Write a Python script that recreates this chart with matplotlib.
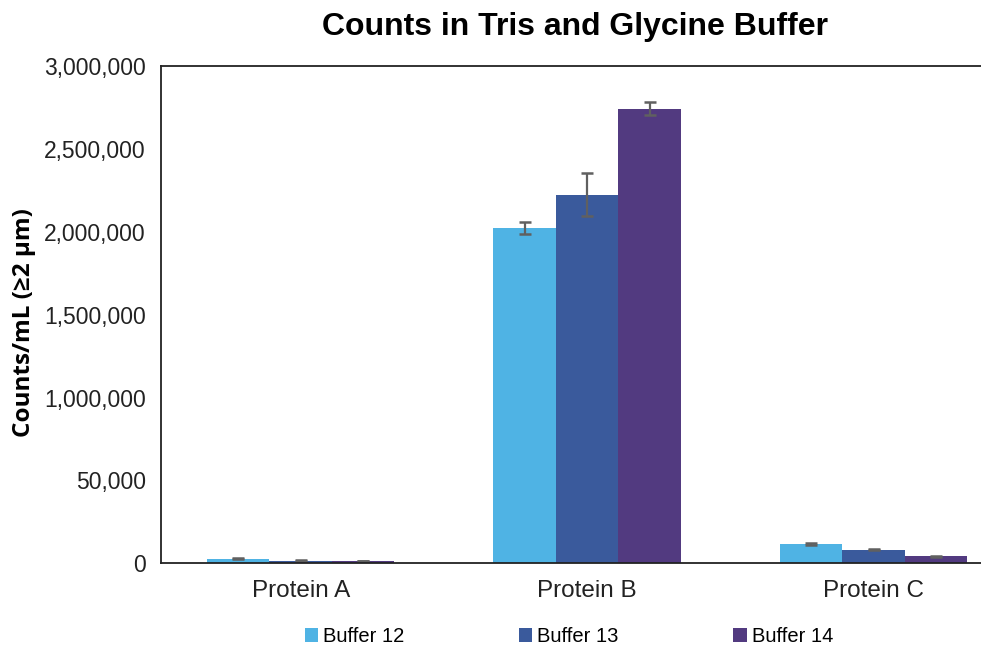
import numpy as np
import matplotlib.pyplot as plt

proteins = ['Protein A', 'Protein B', 'Protein C']
buffers = ['Buffer 12', 'Buffer 13', 'Buffer 14']
colors = ['#4fb3e4', '#3a5a9c', '#523a80']

# counts/mL per buffer, one value per protein
counts = [
    [26000, 2025000, 117000],
    [15000, 2225000, 81000],
    [13000, 2745000, 41000],
]
errors = [
    [3000, 35000, 6000],
    [2000, 130000, 3000],
    [2000, 40000, 2000],
]

ytick_vals = [0, 500000, 1000000, 1500000, 2000000, 2500000, 3000000]
ytick_labels = ['0', '50,000', '1,000,000', '1,500,000', '2,000,000', '2,500,000', '3,000,000']

plt.rcParams['font.family'] = ['Liberation Sans', 'DejaVu Sans']

fig = plt.figure(figsize=(9.81, 6.51), dpi=100)
ax = fig.add_axes([0.164, 0.135, 0.836, 0.763])

x = np.arange(len(proteins))
w = 0.218
for i, (name, col) in enumerate(zip(buffers, colors)):
    ax.bar(x + (i - 1) * w, counts[i], w, color=col, label=name,
           yerr=errors[i], ecolor='#606060',
           error_kw=dict(elinewidth=1.6, capsize=4.5, capthick=1.8))

ax.set_xlim(-0.488, 2.375)
ax.set_ylim(0, 3000000)
ax.set_yticks(ytick_vals)
ax.set_yticklabels(ytick_labels)
ax.set_xticks(x)
ax.set_xticklabels(proteins)
ax.tick_params(axis='y', length=0, labelsize=16.5, colors='#222222', pad=11)
ax.tick_params(axis='x', length=0, labelsize=17.5, colors='#222222', pad=12)
ax.spines['right'].set_visible(False)
for s in ['left', 'top', 'bottom']:
    ax.spines[s].set_linewidth(1.3)
    ax.spines[s].set_color('#222222')

ax.set_ylabel('Counts/mL (\u22652 \u03bcm)', fontsize=17.5, fontweight='bold',
              family=['Open Sans', 'DejaVu Sans'])
ax.yaxis.set_label_coords(-0.152, 0.485)
fig.text(0.586, 0.958, 'Counts in Tris and Glycine Buffer', fontsize=23,
         fontweight='bold', ha='center', va='center')

fig.legend(loc='lower center', bbox_to_anchor=(0.58, -0.02), ncol=3,
           frameon=False, fontsize=14.5, handlelength=0.65, handleheight=0.65,
           handletextpad=0.25, columnspacing=5.7)

fig.savefig('out.png', dpi=100)
